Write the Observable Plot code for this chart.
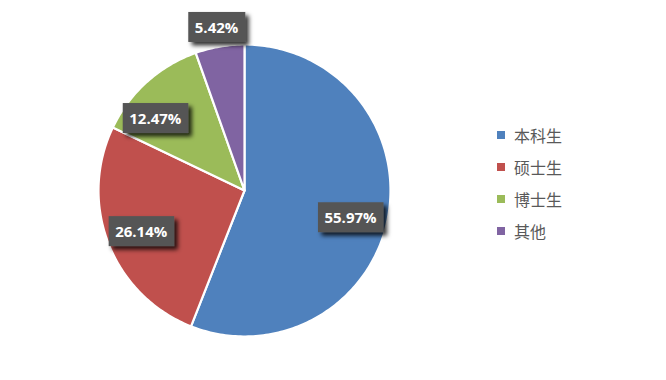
<!DOCTYPE html>
<html>
<head>
<meta charset="utf-8">
<script src="https://cdn.jsdelivr.net/npm/d3@7"></script>
<script src="https://cdn.jsdelivr.net/npm/@observablehq/plot@0.6"></script>
<style>
  html, body { margin: 0; padding: 0; background: #fff; }
  #wrap { position: relative; width: 666px; height: 380px; }
  #legend { position: absolute; left: 497px; top: 119px; font-family: "Noto Sans CJK SC", sans-serif; font-size: 16px; color: #595959; }
  #legend .row { display: flex; align-items: center; height: 32px; }
  #legend .sw { width: 8px; height: 8px; margin-right: 9px; }
</style>
</head>
<body>
<div id="wrap"><div id="legend"></div></div>
<script>
const categories = ["本科生", "硕士生", "博士生", "其他"];
const values = [55.97, 26.14, 12.47, 5.42];
const labels = ["55.97%", "26.14%", "12.47%", "5.42%"];
const colors = ["#4F81BD", "#C0504D", "#9BBB59", "#8064A2"];

// label placement (radius fraction and pixel nudges) — style only
const labelRadius = [0.76, 0.76, 0.76, 1.13];
const labelNudge = [[-3, 2], [0, -4], [-15, 6], [0, -5]];
const PX = 146; // pixels per data unit (pie radius)

const total = d3.sum(values);
let acc = 0;
const slices = values.map((v, i) => {
  const a0 = acc / total * 2 * Math.PI;
  acc += v;
  const a1 = acc / total * 2 * Math.PI;
  return {cat: categories[i], v, a0, a1, i};
});

// polygon outline points for each slice (geometry sampling of the arc)
const polyPts = [];
for (const s of slices) {
  polyPts.push({cat: s.cat, x: 0, y: 0});
  const n = Math.max(4, Math.ceil((s.a1 - s.a0) / (Math.PI / 180)));
  for (let k = 0; k <= n; k++) {
    const a = s.a0 + (s.a1 - s.a0) * k / n;
    polyPts.push({cat: s.cat, x: Math.sin(a), y: Math.cos(a)});
  }
  polyPts.push({cat: s.cat, x: 0, y: 0});
}

const labelPts = slices.map((s, i) => {
  const m = (s.a0 + s.a1) / 2;
  return {
    x: Math.sin(m) * labelRadius[i] + labelNudge[i][0] / PX,
    y: Math.cos(m) * labelRadius[i] - labelNudge[i][1] / PX,
    text: labels[i]
  };
});

const plot = Plot.plot({
  width: 666,
  height: 380,
  x: {domain: [-1, 1], range: [244 - PX, 244 + PX], axis: null},
  y: {domain: [-1, 1], range: [190 + PX, 190 - PX], axis: null},
  color: {domain: categories, range: colors},
  style: {background: "#fff", overflow: "visible"},
  marks: [
    Plot.line(polyPts, {x: "x", y: "y", z: "cat", fill: "cat", stroke: "#fff", strokeWidth: 2.2, strokeLinejoin: "round", curve: "linear"}),
    Plot.text(labelPts, {x: "x", y: "y", text: "text", fill: "#fff", fontWeight: "bold", fontSize: 15, fontFamily: "'Open Sans', 'DejaVu Sans', sans-serif", className: "pielabel"})
  ]
});

document.getElementById("wrap").prepend(plot);

// boxes behind labels
const svg = d3.select(plot);
const defs = svg.insert("defs", ":first-child");
const f = defs.append("filter").attr("id", "shadow").attr("x", "-30%").attr("y", "-30%").attr("width", "170%").attr("height", "170%");
f.append("feDropShadow").attr("dx", 3.5).attr("dy", 3.5).attr("stdDeviation", 2).attr("flood-color", "#000").attr("flood-opacity", 0.8);

svg.selectAll("g.pielabel text").each(function() {
  const t = this;
  t.setAttribute("dy", "0.35em");
  const tr = t.getAttribute("transform");
  const bb = t.getBBox();
  const padX = 6.5, padY = 5;
  const r = document.createElementNS("http://www.w3.org/2000/svg", "rect");
  r.setAttribute("x", bb.x - padX);
  r.setAttribute("y", bb.y - padY);
  r.setAttribute("width", bb.width + 2 * padX);
  r.setAttribute("height", bb.height + 2 * padY);
  r.setAttribute("fill", "#555555");
  r.setAttribute("filter", "url(#shadow)");
  if (tr) r.setAttribute("transform", tr);
  t.parentNode.insertBefore(r, t);
});

// legend
const leg = d3.select("#legend");
categories.forEach((c, i) => {
  const row = leg.append("div").attr("class", "row");
  row.append("div").attr("class", "sw").style("background", colors[i]);
  row.append("span").text(c);
});
</script>
</body>
</html>
